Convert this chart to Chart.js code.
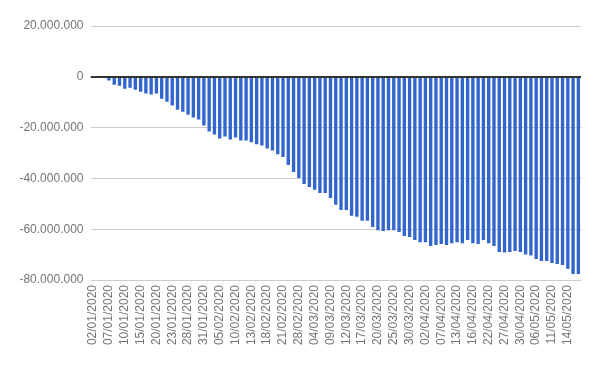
<!DOCTYPE html>
<html>
<head>
<meta charset="utf-8">
<script src="https://cdn.jsdelivr.net/npm/chart.js@4/dist/chart.umd.min.js"></script>
<style>
  html, body { margin: 0; padding: 0; background: #fff; }
  #c { display: block; }
</style>
</head>
<body>
<canvas id="c" width="600" height="371"></canvas>
<script>
  // pregões B3, 02/01/2020 a 18/05/2020
  var datas = [
    '02/01/2020','03/01/2020','06/01/2020','07/01/2020','08/01/2020','09/01/2020','10/01/2020',
    '13/01/2020','14/01/2020','15/01/2020','16/01/2020','17/01/2020','20/01/2020','21/01/2020',
    '22/01/2020','23/01/2020','24/01/2020','27/01/2020','28/01/2020','29/01/2020','30/01/2020',
    '31/01/2020','03/02/2020','04/02/2020','05/02/2020','06/02/2020','07/02/2020','10/02/2020',
    '11/02/2020','12/02/2020','13/02/2020','14/02/2020','17/02/2020','18/02/2020','19/02/2020',
    '20/02/2020','21/02/2020','26/02/2020','27/02/2020','28/02/2020','02/03/2020','03/03/2020',
    '04/03/2020','05/03/2020','06/03/2020','09/03/2020','10/03/2020','11/03/2020','12/03/2020',
    '13/03/2020','16/03/2020','17/03/2020','18/03/2020','19/03/2020','20/03/2020','23/03/2020',
    '24/03/2020','25/03/2020','26/03/2020','27/03/2020','30/03/2020','31/03/2020','01/04/2020',
    '02/04/2020','03/04/2020','06/04/2020','07/04/2020','08/04/2020','09/04/2020','13/04/2020',
    '14/04/2020','15/04/2020','16/04/2020','17/04/2020','20/04/2020','22/04/2020','23/04/2020',
    '24/04/2020','27/04/2020','28/04/2020','29/04/2020','30/04/2020','04/05/2020','05/05/2020',
    '06/05/2020','07/05/2020','08/05/2020','11/05/2020','12/05/2020','13/05/2020','14/05/2020',
    '15/05/2020','18/05/2020'
  ];

  var saldo = [
    -300000, -100000, -200000, -1500000, -3100000, -3500000, -4700000,
    -4300000, -5100000, -5900000, -6600000, -7000000, -6600000, -8600000,
    -9800000, -11300000, -13000000, -13800000, -14900000, -16000000, -16800000,
    -19200000, -21500000, -22700000, -24300000, -23500000, -24700000, -23900000,
    -25100000, -25100000, -25800000, -26600000, -27000000, -28200000, -29000000,
    -30500000, -31600000, -34700000, -37500000, -39800000, -42200000, -43400000,
    -44500000, -45700000, -45700000, -47700000, -50400000, -52400000, -52400000,
    -54700000, -55100000, -56700000, -56700000, -59100000, -60400000, -60700000,
    -60400000, -60400000, -61100000, -62700000, -63100000, -64300000, -65100000,
    -65100000, -66600000, -66200000, -65800000, -66200000, -65500000, -65100000,
    -65500000, -64300000, -65500000, -65800000, -64300000, -65500000, -66600000,
    -69000000, -69200000, -69000000, -68600000, -69000000, -70000000, -70400000,
    -71700000, -72500000, -72500000, -73300000, -73700000, -74100000, -75600000,
    -77600000, -77600000
  ];

  var yMin = -80000000;
  var yMax = 20000000;
  var yPasso = 20000000;

  function fmt(v) {
    var s = String(Math.abs(v)).replace(/\B(?=(\d{3})+(?!\d))/g, '.');
    return (v < 0 ? '-' : '') + s;
  }

  // linha do zero por cima das barras
  var linhaZero = {
    id: 'linhaZero',
    afterDatasetsDraw: function(chart) {
      var y = Math.round(chart.scales.y.getPixelForValue(0)) + 0.5;
      var a = chart.chartArea, ctx = chart.ctx;
      ctx.save();
      ctx.strokeStyle = '#333';
      ctx.lineWidth = 1;
      ctx.beginPath(); ctx.moveTo(a.left, y); ctx.lineTo(a.right, y); ctx.stroke();
      ctx.restore();
    }
  };

  var fonte = { family: "'Liberation Sans', Arial, sans-serif", size: 12 };

  new Chart(document.getElementById('c').getContext('2d'), {
    type: 'bar',
    data: {
      labels: datas,
      datasets: [{
        data: saldo,
        backgroundColor: '#3366cc',
        borderWidth: 0,
        categoryPercentage: 1,
        barPercentage: 0.64
      }]
    },
    plugins: [linhaZero],
    options: {
      responsive: false,
      animation: false,
      layout: { padding: { left: 0, right: 19, top: 26, bottom: 0 } },
      plugins: { legend: { display: false }, tooltip: { enabled: false } },
      scales: {
        x: {
          grid: { display: false, drawTicks: false },
          border: { display: false },
          afterFit: function(s) { s.height = 91; },
          ticks: {
            autoSkip: false,
            minRotation: 90,
            maxRotation: 90,
            padding: 5,
            color: '#757575',
            font: fonte,
            callback: function(v, i) { return i % 3 === 0 ? datas[i] : ''; }
          }
        },
        y: {
          min: yMin,
          max: yMax,
          afterFit: function(s) { s.width = 90.5; },
          grid: {
            color: function(c) { return c.tick && c.tick.value === 0 ? '#333' : '#ccc'; },
            drawTicks: false
          },
          border: { display: false },
          ticks: {
            stepSize: yPasso,
            padding: 7,
            color: '#757575',
            font: fonte,
            callback: function(v) { return fmt(v); }
          }
        }
      }
    }
  });
</script>
</body>
</html>
